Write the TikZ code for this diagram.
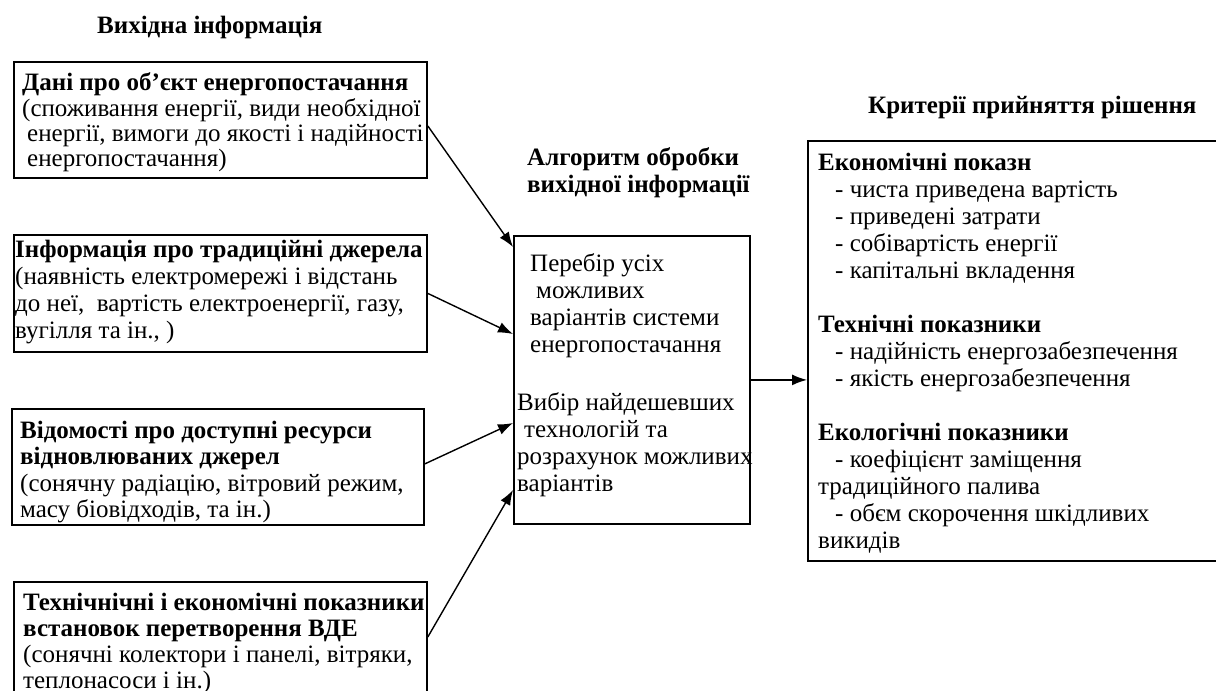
\documentclass[tikz,border=0pt]{standalone}
\usepackage{fontspec}
\setmainfont{Liberation Serif}
\usetikzlibrary{arrows.meta}
\begin{document}
\begin{tikzpicture}[x=1pt,y=-1pt,
  box/.style={draw, line width=1.8pt, anchor=north west, inner sep=0pt},
  txt/.style={anchor=north west, inner sep=0pt, align=left, font=\fontsize{25}{#1}\selectfont},
  txt/.default=27,
  ttl/.style={anchor=north west, inner sep=0pt, align=left, font=\fontsize{25}{27}\selectfont\bfseries},
  arr/.style={-{Latex[length=15pt,width=11pt]}, line width=1.4pt}]
\useasboundingbox (0,0) rectangle (1216,691);
% titles
\node[ttl] (t1) at (97,33-18.9) {\strut Вихідна інформація};
\node[ttl] (t2) at (527,165-18.9) {\strut Алгоритм обробки\\вихідної інформації};
\node[ttl] (t3) at (868,113-18.9) {\strut Критерії прийняття рішення};
% boxes
\node[box, minimum width=413, minimum height=116] (b1) at (13,61) {};
\node[box, minimum width=413, minimum height=117] (b2) at (13,234) {};
\node[box, minimum width=412, minimum height=116] (b3) at (11,408) {};
\node[box, minimum width=413, minimum height=130] (b4) at (13,581) {};
\node[box, minimum width=236, minimum height=288] (m) at (513,235) {};
\node[box, minimum width=412, minimum height=420] (r) at (807,140) {};
% texts
\node[txt=25] (x1) at (22,90-17.5) {\strut\textbf{Дані про об’єкт енергопостачання}\\
(споживання енергії, види необхідної\\
\hspace*{5pt}енергії, вимоги до якості і надійності\\
\hspace*{5pt}енергопостачання)};
\node[txt=27] (x2) at (15,257-18.9) {\strut\textbf{Інформація про традиційні джерела}\\
(наявність електромережі і відстань\\
до неї,\ \ вартість електроенергії, газу,\\
вугілля та ін., )};
\node[txt=26.5] (x3) at (20,438-18.55) {\strut\textbf{Відомості про доступні ресурси}\\
\textbf{відновлюваних джерел}\\
(сонячну радіацію, вітровий режим,\\
масу біовідходів, та ін.)};
\node[txt=26] (x4) at (23,610-18.2) {\strut\textbf{Технічнічні і економічні показники}\\
\textbf{встановок перетворення ВДЕ}\\
(сонячні колектори і панелі, вітряки,\\
теплонасоси і ін.)};
\node[txt=27] (x5) at (530,271-18.9) {\strut Перебір усіх\\
\hspace*{6pt}можливих\\
варіантів системи\\
енергопостачання};
\node[txt=27] (x6) at (517,410-18.9) {\strut Вибір найдешевших\\
\hspace*{7pt}технологій та\\
розрахунок можливих\\
варіантів};
\node[txt=27] (x7) at (818,170-18.9) {\strut\textbf{Економічні показн}\\
\hspace*{17pt}- чиста приведена вартість\\
\hspace*{17pt}- приведені затрати\\
\hspace*{17pt}- собівартість енергії\\
\hspace*{17pt}- капітальні вкладення\\
\mbox{}\\
\textbf{Технічні показники}\\
\hspace*{17pt}- надійність енергозабезпечення\\
\hspace*{17pt}- якість енергозабезпечення\\
\mbox{}\\
\textbf{Екологічні показники}\\
\hspace*{17pt}- коефіцієнт заміщення\\
традиційного палива\\
\hspace*{17pt}- обєм скорочення шкідливих\\
викидів};
% arrows
\draw[arr] ([yshift=-6pt]b1.east) -- ([yshift=-12pt]m.north west);
\draw[arr] (b2.east) -- ([yshift=-99pt]m.north west);
\draw[arr] ([yshift=3pt]b3.east) -- ([yshift=-188pt]m.north west);
\draw[arr] ([yshift=-56pt]b4.north east) -- ([yshift=-255pt]m.north west);
\draw[arr] (m.east) -- (m.east -| r.west);
\end{tikzpicture}
\end{document}
